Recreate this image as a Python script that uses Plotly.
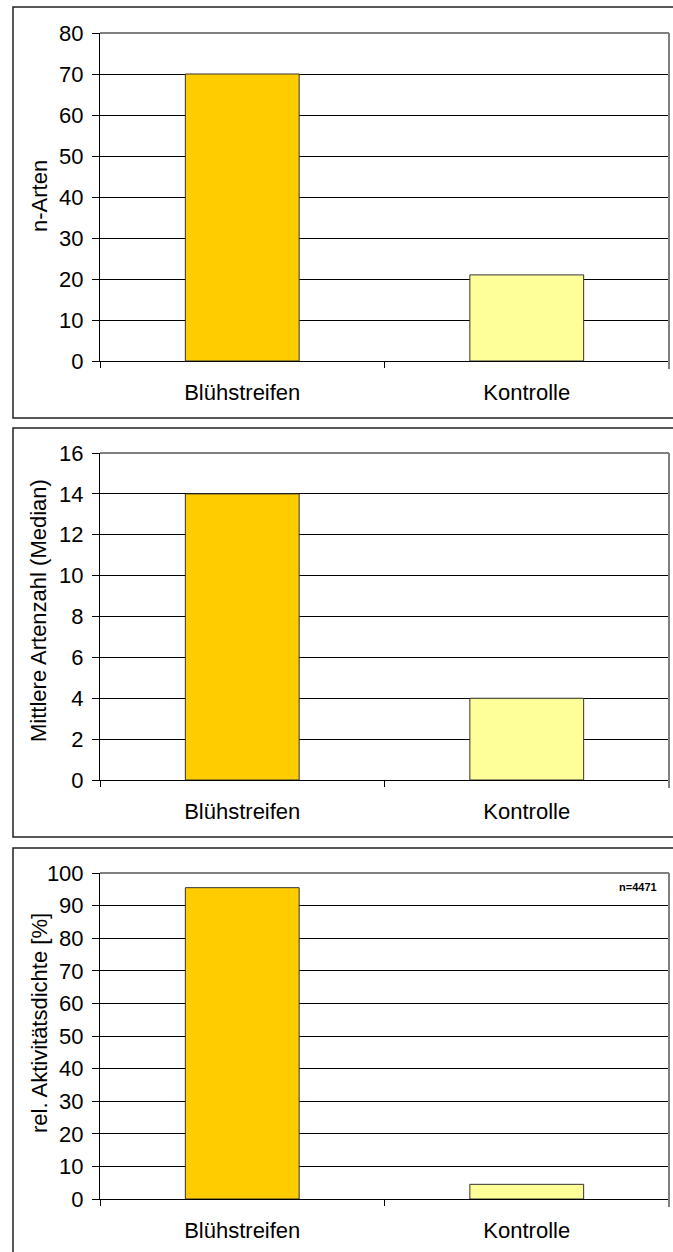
import plotly.graph_objects as go

# Data
categories = ["Blühstreifen", "Kontrolle"]
n_arten = [70, 21]
mittlere_artenzahl = [14, 4]
rel_aktivitaetsdichte = [95.5, 4.5]

bar_colors = ["#FFCC00", "#FFFF99"]

y_titles = ["n-Arten", "Mittlere Artenzahl (Median)", "rel. Aktivitätsdichte [%]"]
y_ranges = [(0, 80, 10), (0, 16, 2), (0, 100, 10)]

W, H = 673, 1252
FONT = "Liberation Sans, Arial, sans-serif"
TICK_SIZE = 22
TITLE_SIZE = 22


def fx(p):
    return p / W


def fy(p):
    return 1 - p / H


# pixel layout of the three panels:
# (plot top, plot bottom, box top, box bottom, y-title centre)
panels = [
    (33, 361, 7, 418, 196),
    (453, 780, 428, 837, 611),
    (873, 1199, 848, 1262, 1023),
]
plot_left, plot_right = 100, 669

fig = go.Figure()
series = [n_arten, mittlere_artenzahl, rel_aktivitaetsdichte]

layout = dict(
    template="none",
    width=W,
    height=H,
    margin=dict(l=0, r=0, t=0, b=0, autoexpand=False),
    paper_bgcolor="white",
    plot_bgcolor="white",
    showlegend=False,
    font=dict(family=FONT, size=TICK_SIZE, color="black"),
)
shapes = []
annotations = []

for i, (vals, (ptop, pbot, btop, bbot, tmid)) in enumerate(zip(series, panels)):
    k = "" if i == 0 else str(i + 1)
    fig.add_trace(
        go.Bar(
            x=categories,
            y=vals,
            width=0.4,
            marker=dict(color=bar_colors, line=dict(color="#333333", width=1)),
            xaxis="x" + k,
            yaxis="y" + k,
            hoverinfo="x+y",
        )
    )
    y0, y1, dt = y_ranges[i]
    layout["xaxis" + k] = dict(
        domain=[fx(plot_left), fx(plot_right)],
        anchor="y" + k,
        type="category",
        automargin=False,
        showline=True,
        linecolor="black",
        linewidth=1,
        ticks="outside",
        ticklen=6,
        tickcolor="black",
        tickson="boundaries",
        showgrid=False,
        zeroline=False,
        ticklabelstandoff=12,
        tickfont=dict(family=FONT, size=TICK_SIZE, color="black"),
    )
    layout["yaxis" + k] = dict(
        domain=[fy(pbot), fy(ptop)],
        anchor="x" + k,
        automargin=False,
        range=[y0, y1],
        dtick=dt,
        tick0=0,
        showline=True,
        linecolor="black",
        linewidth=1,
        ticks="outside",
        ticklen=7,
        tickcolor="black",
        showgrid=True,
        gridcolor="black",
        gridwidth=1,
        zeroline=False,
        ticklabelstandoff=4,
        tickfont=dict(family=FONT, size=TICK_SIZE, color="black"),
    )
    # outer frame of the panel
    shapes.append(
        dict(
            type="rect", xref="paper", yref="paper",
            x0=fx(13), x1=fx(690), y0=fy(bbot), y1=fy(btop),
            line=dict(color="#222222", width=1.5),
        )
    )
    # top edge and shaded right edge of the plot area
    shapes.append(
        dict(
            type="line", xref="paper", yref="paper",
            x0=fx(plot_left), x1=fx(plot_right), y0=fy(ptop), y1=fy(ptop),
            line=dict(color="black", width=1),
        )
    )
    shapes.append(
        dict(
            type="line", xref="paper", yref="paper",
            x0=fx(plot_right), x1=fx(plot_right), y0=fy(pbot + 8), y1=fy(ptop),
            line=dict(color="#808080", width=2),
        )
    )
    annotations.append(
        dict(
            text=y_titles[i], xref="paper", yref="paper",
            x=fx(39), y=fy(tmid),
            textangle=-90, showarrow=False,
            xanchor="center", yanchor="middle",
            font=dict(family=FONT, size=TITLE_SIZE, color="black"),
        )
    )

annotations.append(
    dict(
        text="<b>n=4471</b>", xref="paper", yref="paper",
        x=fx(638), y=fy(887), showarrow=False,
        xanchor="center", yanchor="middle",
        font=dict(family=FONT, size=11, color="black"),
    )
)

layout["shapes"] = shapes
layout["annotations"] = annotations
fig.update_layout(**layout)
fig.write_html("out.html")
